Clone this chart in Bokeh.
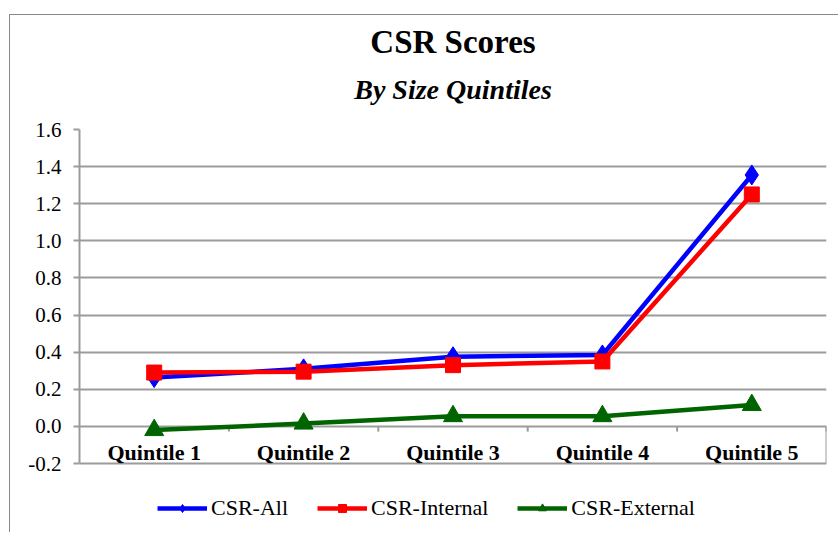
from bokeh.plotting import figure
from bokeh.models import Range1d, Title, Legend, LegendItem, NumeralTickFormatter
from bokeh.core.properties import value
from bokeh.embed import file_html
from bokeh.resources import INLINE

categories = ["Quintile 1", "Quintile 2", "Quintile 3", "Quintile 4", "Quintile 5"]
csr_all = [0.263, 0.31, 0.375, 0.385, 1.355]
csr_internal = [0.29, 0.295, 0.33, 0.35, 1.25]
csr_external = [-0.02, 0.015, 0.055, 0.055, 0.115]
y_ticks = [-0.2, 0.0, 0.2, 0.4, 0.6, 0.8, 1.0, 1.2, 1.4, 1.6]

xs = list(range(1, len(categories) + 1))
bounds = [x + 0.5 for x in xs]

SERIF = "Liberation Serif"
GRID = "#9b9b9b"

# layout (pixels): plotting area 334 px tall, plus a strip below it for the legend
PLOT_H = 334
LEGEND_STRIP = 65
span = y_ticks[-1] - y_ticks[0]
y_start = y_ticks[0] - span * LEGEND_STRIP / PLOT_H

p = figure(frame_width=747, frame_height=PLOT_H + LEGEND_STRIP, output_backend="svg",
           toolbar_location=None,
           x_range=Range1d(0.5, len(categories) + 0.5), y_range=Range1d(y_start, y_ticks[-1]),
           x_axis_location=None, min_border_left=69, min_border_right=12,
           min_border_bottom=4, min_border_top=114)
p.styles = {"margin-left": "9px", "margin-top": "14px",
            "border-left": "1px solid #8a8a8a", "border-top": "1px solid #8a8a8a"}
p.outline_line_color = None
p.background_fill_color = "white"
p.border_fill_color = "white"

p.add_layout(Title(text="By Size Quintiles", text_font=SERIF, text_font_size="28px",
                   text_font_style="bold italic", align="center", text_color="black",
                   standoff=49, offset=0), "above")
try:
    main_title = Title(text="CSR Scores", text_font=SERIF, text_font_size="33px",
                       text_font_style="bold", align="center", text_color="black",
                       standoff=-25)
except Exception:
    main_title = Title(text="CSR Scores", text_font=SERIF, text_font_size="33px",
                       text_font_style="bold", align="center", text_color="black",
                       standoff=0)
p.add_layout(main_title, "above")

p.xgrid.visible = False
p.ygrid.grid_line_color = GRID
p.ygrid.grid_line_width = 2
p.ygrid.ticker = y_ticks

ya = p.yaxis[0]
ya.ticker = y_ticks
ya.bounds = (y_ticks[0], y_ticks[-1])
ya.formatter = NumeralTickFormatter(format="0.0")
ya.axis_line_color = GRID
ya.axis_line_width = 2
ya.major_tick_line_color = GRID
ya.major_tick_line_width = 2
ya.major_tick_in = 0
ya.major_tick_out = 6
ya.minor_tick_line_color = None
ya.major_label_text_font = SERIF
ya.major_label_text_font_size = "21px"
ya.major_label_text_color = "black"
ya.major_label_standoff = 12

# right frame edge and category tick marks along y = 0
p.segment(x0=[len(categories) + 0.5], y0=[y_ticks[0]], x1=[len(categories) + 0.5], y1=[0.0],
          line_color=GRID, line_width=2)
p.segment(x0=bounds, y0=[0.0] * len(bounds), x1=bounds, y1=[-0.028] * len(bounds),
          line_color=GRID, line_width=2)

p.text(x=xs, y=[0.0] * len(xs), text=categories, text_font=value(SERIF),
       text_font_size="22px", text_font_style="bold", text_align="center",
       text_baseline="middle", y_offset=26, text_color="black")

r1l = p.line(xs, csr_all, line_color="#0000ff", line_width=4.5)
r1m = p.scatter(xs, csr_all, marker="diamond", size=20, fill_color="#0000ff", line_color="#0000ff")
r2l = p.line(xs, csr_internal, line_color="#ff0000", line_width=4.5)
r2m = p.scatter(xs, csr_internal, marker="square", size=15, fill_color="#ff0000", line_color="#ff0000")
r3l = p.line(xs, csr_external, line_color="#006400", line_width=4.5)
r3m = p.scatter(xs, csr_external, marker="triangle", size=19, fill_color="#006400", line_color="#006400")

legend = Legend(items=[LegendItem(label="CSR-All", renderers=[r1l, r1m]),
                       LegendItem(label="CSR-Internal", renderers=[r2l, r2m]),
                       LegendItem(label="CSR-External", renderers=[r3l, r3m])],
                orientation="horizontal", location=(78, 7),
                border_line_color=None, background_fill_alpha=0,
                label_text_font=SERIF, label_text_font_size="22px", label_text_color="black",
                glyph_width=50, glyph_height=20, label_standoff=4, spacing=29,
                padding=4, margin=0)
p.add_layout(legend, "center")

open("out.html", "w").write(file_html(p, INLINE))
